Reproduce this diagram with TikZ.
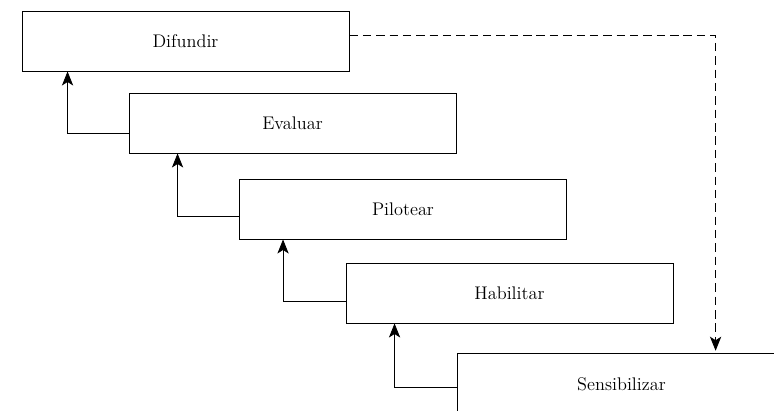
\documentclass[tikz,border=0pt]{standalone}
\usetikzlibrary{arrows.meta}
\tikzset{
  stage/.style={draw, line width=0.6pt, minimum width=8.175cm, minimum height=1.5cm,
    inner sep=0pt, font=\fontsize{13}{15}\selectfont},
  flow/.style={line width=0.6pt, -{Stealth[length=10pt, width=8pt, inset=2.5pt]}},
}
\begin{document}
\begin{tikzpicture}[x=0.025cm, y=-0.025cm]
      \clip (0,0) rectangle (774,410);
      \draw
        (185.5,41) node[stage] (di){Difundir}
        (292.5,123) node[stage] (ev){Evaluar}
        (403,209) node[stage] (pi){Pilotear}
        (509.5,293) node[stage] (ha){Habilitar}
        (621.5,384) node[stage, draw=none] (se){Sensibilizar};
      \draw[line width=0.6pt] (se.south west) -- (se.north west) -- (se.north east);
      \begin{scope}[flow]
        \draw ([yshift=-0.27cm]ev.west) -| ([xshift=1.15cm]di.south west);
        \draw ([yshift=-0.18cm]pi.west) -| ([xshift=1.225cm]ev.south west);
        \draw ([yshift=-0.22cm]ha.west) -| ([xshift=1.1cm]pi.south west);
        \draw ([yshift=-0.08cm]se.west) -| ([xshift=1.225cm]ha.south west);
        \draw[dash pattern=on 6pt off 3.5pt, shorten >=2pt]
          ([yshift=0.15cm]di.east) -| ([xshift=6.45cm]se.north west);
      \end{scope}
    \end{tikzpicture}
\end{document}
